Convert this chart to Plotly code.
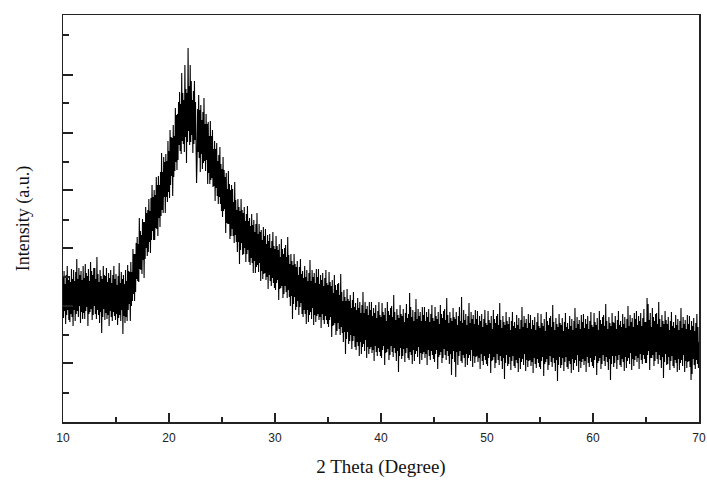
import numpy as np
import plotly.graph_objects as go

theta_start = 10.0
theta_step = 0.05

counts_10_20 = [
    144, 104, 151, 111, 138, 98, 147, 107, 156, 112, 142, 102, 146, 100, 140, 108, 153, 105, 143, 96,
    152, 112, 141, 101, 150, 108, 163, 111, 143, 105, 154, 116, 147, 99, 151, 110, 142, 103, 156, 109,
    144, 103, 158, 111, 149, 115, 146, 96, 153, 108, 141, 110, 160, 113, 151, 102, 147, 107, 154, 116,
    154, 108, 143, 103, 165, 112, 148, 107, 140, 99, 152, 110, 146, 89, 143, 105, 156, 113, 147, 102,
    146, 109, 154, 103, 140, 107, 149, 96, 144, 111, 152, 105, 139, 101, 147, 110, 156, 106, 143, 102,
    148, 108, 137, 97, 146, 104, 159, 107, 139, 101, 150, 112, 143, 88, 147, 106, 138, 99, 152, 105,
    141, 101, 157, 112, 151, 118, 150, 101, 160, 116, 150, 121, 173, 128, 168, 121, 168, 130, 179, 143,
    185, 141, 178, 140, 204, 153, 191, 152, 187, 148, 203, 162, 200, 144, 200, 163, 215, 174, 209, 166,
    212, 170, 223, 180, 211, 169, 224, 182, 237, 191, 225, 182, 232, 182, 227, 194, 245, 193, 237, 186,
    246, 204, 237, 195, 250, 206, 269, 212, 250, 209, 265, 225, 260, 209, 268, 225, 261, 220, 281, 230,
]
counts_20_30 = [
    271, 224, 292, 237, 285, 246, 284, 226, 297, 245, 286, 251, 314, 260, 307, 252, 308, 262, 320, 277,
    330, 271, 318, 268, 349, 281, 329, 278, 322, 270, 357, 285, 333, 259, 329, 280, 374, 291, 336, 277,
    357, 280, 341, 287, 322, 269, 331, 278, 341, 282, 320, 267, 239, 262, 313, 270, 327, 264, 312, 250,
    317, 268, 302, 253, 310, 259, 324, 261, 298, 251, 308, 262, 298, 238, 300, 249, 286, 238, 301, 242,
    286, 244, 292, 235, 273, 236, 281, 221, 273, 234, 279, 226, 261, 218, 267, 225, 275, 218, 258, 211,
    253, 205, 265, 211, 252, 213, 245, 189, 249, 199, 233, 198, 251, 198, 238, 183, 232, 186, 237, 193,
    233, 186, 220, 179, 240, 187, 222, 180, 212, 170, 223, 180, 215, 158, 211, 172, 223, 179, 212, 167,
    209, 168, 215, 174, 201, 160, 208, 168, 216, 172, 201, 160, 204, 157, 196, 164, 208, 159, 197, 149,
    202, 161, 190, 149, 198, 155, 209, 157, 188, 150, 198, 159, 190, 141, 192, 151, 182, 143, 195, 148,
    186, 149, 193, 142, 178, 145, 187, 133, 181, 147, 188, 141, 174, 136, 181, 144, 190, 139, 176, 134,
]
counts_30_40 = [
    173, 132, 186, 139, 176, 142, 172, 122, 178, 133, 165, 134, 183, 136, 173, 124, 168, 128, 174, 136,
    177, 130, 165, 124, 185, 132, 167, 125, 158, 116, 168, 126, 161, 103, 157, 118, 168, 125, 158, 112,
    155, 115, 161, 121, 147, 107, 155, 115, 163, 119, 148, 108, 151, 105, 144, 112, 156, 108, 145, 98,
    152, 112, 141, 100, 149, 107, 162, 110, 141, 103, 152, 114, 145, 97, 149, 107, 139, 100, 153, 106,
    145, 108, 153, 102, 138, 105, 147, 94, 142, 108, 149, 102, 136, 98, 144, 106, 152, 102, 139, 98,
    137, 95, 150, 102, 140, 105, 136, 85, 142, 96, 129, 97, 147, 99, 137, 87, 132, 91, 138, 99,
    139, 93, 127, 87, 148, 95, 130, 89, 121, 80, 132, 90, 125, 68, 121, 83, 133, 90, 123, 78,
    121, 81, 127, 87, 114, 73, 122, 81, 130, 86, 115, 75, 119, 72, 112, 80, 124, 76, 114, 66,
    120, 80, 109, 68, 117, 75, 130, 78, 109, 71, 120, 82, 113, 64, 116, 75, 107, 68, 120, 73,
    112, 75, 120, 69, 106, 72, 114, 61, 109, 76, 117, 70, 104, 66, 111, 74, 120, 70, 107, 66,
]
counts_40_50 = [
    105, 64, 119, 72, 110, 76, 107, 57, 114, 69, 101, 70, 120, 73, 111, 62, 107, 67, 114, 76,
    116, 70, 105, 65, 127, 74, 110, 69, 102, 61, 113, 71, 107, 50, 104, 66, 117, 74, 108, 63,
    106, 66, 113, 73, 100, 60, 109, 69, 118, 74, 104, 64, 108, 62, 129, 70, 115, 67, 105, 58,
    112, 72, 101, 61, 110, 68, 123, 71, 103, 65, 113, 75, 106, 58, 110, 69, 101, 62, 115, 68,
    107, 70, 115, 64, 101, 68, 110, 57, 105, 72, 113, 66, 100, 62, 108, 71, 117, 67, 104, 63,
    101, 60, 115, 68, 106, 72, 103, 53, 110, 65, 98, 67, 117, 70, 108, 59, 104, 64, 111, 73,
    113, 67, 102, 62, 124, 71, 107, 66, 99, 58, 110, 68, 104, 47, 101, 63, 114, 71, 105, 60,
    103, 45, 110, 70, 97, 57, 106, 66, 115, 71, 101, 61, 125, 59, 99, 67, 112, 64, 102, 55,
    108, 68, 97, 57, 106, 64, 119, 67, 99, 61, 110, 72, 103, 55, 107, 66, 98, 59, 112, 65,
    103, 66, 111, 60, 97, 64, 106, 53, 101, 68, 108, 61, 95, 57, 103, 66, 112, 62, 99, 58,
]
counts_50_60 = [
    97, 56, 111, 64, 102, 68, 99, 49, 106, 61, 93, 62, 112, 65, 103, 54, 99, 59, 106, 68,
    108, 62, 97, 57, 119, 66, 102, 61, 94, 53, 106, 64, 100, 43, 97, 59, 110, 67, 101, 56,
    98, 58, 105, 65, 92, 52, 101, 61, 110, 66, 96, 56, 100, 54, 94, 62, 107, 59, 97, 50,
    104, 64, 93, 53, 102, 60, 115, 63, 95, 57, 106, 68, 99, 51, 103, 62, 94, 55, 108, 61,
    99, 62, 107, 56, 93, 60, 102, 49, 97, 64, 105, 58, 92, 54, 100, 63, 109, 59, 96, 55,
    94, 53, 108, 61, 99, 65, 96, 46, 103, 58, 91, 60, 110, 63, 101, 52, 97, 57, 104, 66,
    106, 60, 95, 55, 117, 64, 100, 59, 92, 51, 104, 62, 98, 41, 95, 57, 108, 65, 99, 54,
    97, 57, 104, 64, 91, 51, 100, 60, 109, 65, 95, 55, 99, 53, 93, 61, 106, 58, 96, 49,
    103, 63, 92, 52, 101, 59, 114, 62, 94, 56, 105, 67, 98, 50, 102, 61, 93, 54, 107, 60,
    100, 63, 108, 57, 94, 61, 103, 50, 98, 65, 106, 59, 93, 55, 101, 64, 110, 60, 97, 56,
]
counts_60_70 = [
    95, 54, 109, 62, 100, 66, 97, 47, 104, 59, 92, 61, 111, 64, 102, 53, 98, 58, 105, 67,
    107, 61, 96, 56, 118, 65, 101, 60, 93, 52, 105, 63, 99, 42, 96, 58, 109, 66, 100, 55,
    99, 59, 106, 66, 93, 53, 102, 62, 111, 67, 97, 57, 101, 55, 95, 63, 108, 60, 98, 51,
    105, 65, 94, 54, 103, 61, 116, 64, 96, 58, 107, 69, 100, 52, 104, 63, 95, 56, 109, 62,
    103, 66, 111, 60, 97, 64, 106, 53, 101, 68, 109, 62, 96, 58, 104, 67, 113, 63, 100, 59,
    100, 59, 124, 67, 118, 71, 102, 52, 109, 64, 95, 64, 114, 67, 105, 56, 101, 61, 108, 70,
    109, 63, 98, 58, 120, 67, 103, 62, 95, 54, 107, 65, 101, 44, 98, 60, 111, 68, 102, 57,
    98, 58, 105, 65, 92, 52, 101, 61, 110, 66, 96, 56, 100, 54, 94, 62, 107, 59, 97, 50,
    103, 63, 92, 52, 101, 59, 114, 62, 94, 56, 105, 67, 98, 50, 102, 61, 93, 54, 107, 60,
    98, 61, 106, 55, 92, 42, 101, 48, 96, 63, 104, 57, 91, 53, 99, 62, 108, 58, 95, 54,
    80,
]

x_tick_vals = [10, 20, 30, 40, 50, 60, 70]
x_tick_text = ["10", "20", "30", "40", "50", "60", "70"]
x_minor_vals = [15, 25, 35, 45, 55, 65]
y_major_vals = [59, 116, 174, 232, 289, 347]
y_minor_vals = [29, 87, 145, 202, 260, 319, 387]

intensity = (counts_10_20 + counts_20_30 + counts_30_40
             + counts_40_50 + counts_50_60 + counts_60_70)
two_theta = np.round(theta_start + theta_step * np.arange(len(intensity)), 3)

fig = go.Figure()
fig.add_trace(go.Scatter(
    x=two_theta, y=intensity, mode="lines",
    line=dict(color="black", width=1.1),
    showlegend=False, hoverinfo="skip",
))

axis_line = dict(showline=True, linecolor="#222", linewidth=1.5, mirror=True,
                 showgrid=False, zeroline=False, automargin=False)

fig.update_layout(
    width=707, height=480,
    margin=dict(l=63, r=8, t=15, b=58),
    paper_bgcolor="white", plot_bgcolor="white",
    xaxis=dict(
        range=[10, 70], tickvals=x_tick_vals, ticktext=x_tick_text,
        ticks="inside", ticklen=9, tickwidth=1.2, tickcolor="#222",
        ticklabelstandoff=4,
        minor=dict(tickvals=x_minor_vals, ticks="inside",
                   ticklen=5, tickwidth=1.2, tickcolor="#222"),
        tickfont=dict(family="Liberation Sans, Arial", size=12, color="#222"),
        title=dict(text="2 Theta (Degree)", standoff=16,
                   font=dict(family="Liberation Serif, Times New Roman", size=19, color="#111")),
        **axis_line,
    ),
    yaxis=dict(
        range=[0, 407], tickvals=y_major_vals,
        showticklabels=False,
        ticks="inside", ticklen=10, tickwidth=1.2, tickcolor="#222",
        minor=dict(tickvals=y_minor_vals, ticks="inside",
                   ticklen=6, tickwidth=1.2, tickcolor="#222"),
        title=dict(text="Intensity (a.u.)", standoff=27,
                   font=dict(family="Liberation Serif, Times New Roman", size=18, color="#111")),
        **axis_line,
    ),
)

fig.write_html(
    "out.html",
    config={"displayModeBar": False, "staticPlot": True},
    post_script="document.body.style.margin='0';document.body.style.overflow='hidden';",
)
